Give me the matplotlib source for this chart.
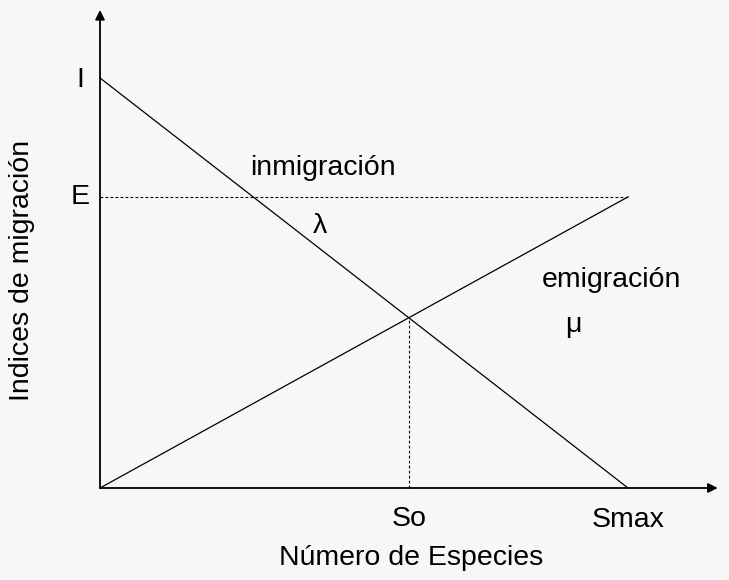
import matplotlib
matplotlib.use("Agg")
import matplotlib.pyplot as plt

smax = 10.0          # numero maximo de especies
inm_max = 10.0       # I: tasa de inmigracion con isla vacia
emi_max = 7.1        # E: tasa de emigracion en Smax

# punto de cruce de las dos rectas
s_eq = inm_max / (inm_max / smax + emi_max / smax)
t_eq = emi_max * s_eq / smax

inm_x = [0, smax]
inm_y = [inm_max, 0]
emi_x = [0, smax]
emi_y = [0, emi_max]

plt.rcParams['font.family'] = ['Liberation Sans', 'DejaVu Sans']

fig = plt.figure(figsize=(7.29, 5.8), dpi=100, facecolor='#f7f7f7')
ax = fig.add_axes([0, 0, 1, 1])
ax.set_facecolor('#f7f7f7')
ax.set_xlim(-1.894, 11.913)
ax.set_ylim(-2.244, 11.902)
ax.axis('off')

# ejes con flecha
ax.annotate('', xy=(11.7, 0), xytext=(0, 0),
            arrowprops=dict(arrowstyle='-|>', color='black', lw=1.3, mutation_scale=14, shrinkA=0, shrinkB=0))
ax.annotate('', xy=(0, 11.66), xytext=(0, 0),
            arrowprops=dict(arrowstyle='-|>', color='black', lw=1.3, mutation_scale=14, shrinkA=0, shrinkB=0))

# curvas
ax.plot(inm_x, inm_y, color='black', lw=0.9)
ax.plot(emi_x, emi_y, color='black', lw=0.9)

# lineas punteadas
ax.plot([0, smax], [emi_max, emi_max], color='black', lw=0.8, ls=(0, (2.5, 2)))
ax.plot([s_eq, s_eq], [0, t_eq], color='black', lw=0.8, ls=(0, (2.5, 2)))

fs = 20.5
ax.text(-0.38, inm_max - 0.05, 'I', fontsize=fs, ha='center', va='center')
ax.text(-0.38, emi_max, 'E', fontsize=fs, ha='center', va='center')
ax.text(s_eq, -0.76, 'So', fontsize=fs, ha='center', va='center')
ax.text(smax, -0.78, 'Smax', fontsize=fs, ha='center', va='center')
ax.text(4.23, 7.8, 'inmigración', fontsize=fs, ha='center', va='center')
ax.text(4.17, 6.4, 'λ', fontsize=fs, ha='center', va='center')
ax.text(9.68, 5.08, 'emigración', fontsize=fs, ha='center', va='center')
ax.text(8.96, 3.97, 'μ', fontsize=fs, ha='center', va='center')
ax.text(5.89, -1.7, 'Número de Especies', fontsize=fs, ha='center', va='center')
ax.text(-1.48, 5.3, 'Indices de migración', fontsize=fs, ha='center', va='center', rotation=90)

fig.savefig('out.png', dpi=100, facecolor=fig.get_facecolor())
